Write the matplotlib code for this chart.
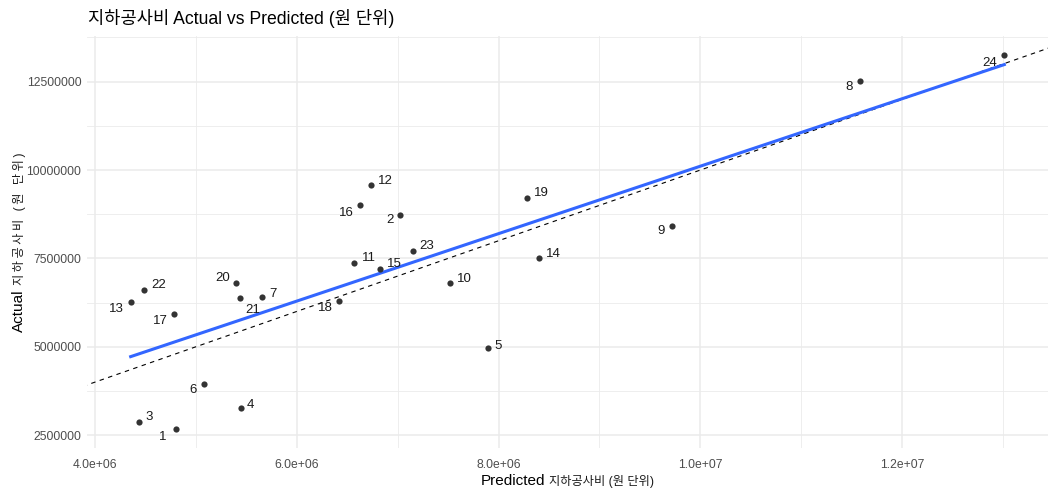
import matplotlib
matplotlib.use("Agg")
import matplotlib.pyplot as plt
import matplotlib.ticker as mticker
import numpy as np

plt.rcParams['font.family'] = ['Liberation Sans', 'Noto Sans CJK KR', 'DejaVu Sans']

# project id, model prediction and actual underground construction cost (KRW)
ids = list(range(1, 25))
predicted = [4.804e6, 7.021e6, 4.440e6, 5.449e6, 7.898e6, 5.082e6, 5.651e6, 11.583e6,
             9.720e6, 7.520e6, 6.565e6, 6.739e6, 4.354e6, 8.404e6, 6.826e6, 6.624e6,
             4.784e6, 6.422e6, 8.278e6, 5.400e6, 5.433e6, 4.489e6, 7.150e6, 13.012e6]
actual = [2.670e6, 8.730e6, 2.868e6, 3.272e6, 4.952e6, 3.934e6, 6.400e6, 12.511e6,
          8.410e6, 6.818e6, 7.373e6, 9.590e6, 6.280e6, 7.514e6, 7.195e6, 9.024e6,
          5.930e6, 6.309e6, 9.211e6, 6.800e6, 6.394e6, 6.609e6, 7.712e6, 13.255e6]

# label nudges in pixels (dx, dy) so numbers don't sit on the points
nudge = {1: (-13, -8), 2: (-10, -5), 3: (10, 5), 4: (9, 3), 5: (10, 2), 6: (-11, -6),
         7: (11, 3), 8: (-11, -6), 9: (-11, -5), 10: (14, 4), 11: (15, 5), 12: (14, 4),
         13: (-14, -7), 14: (14, 4), 15: (14, 5), 16: (-13, -8), 17: (-14, -7),
         18: (-14, -7), 19: (15, 5), 20: (-14, 5), 21: (13, -12), 22: (14, 5),
         23: (14, 5), 24: (-15, -8)}

x = np.array(predicted)
y = np.array(actual)

fig = plt.figure(figsize=(10.48, 4.9), dpi=100)
ax = fig.add_axes([0.083, 0.086, 0.917, 0.84])

# ggplot-style 5% expansion
xr = x.max() - x.min()
yr = y.max() - y.min()
ax.set_xlim(x.min() - 0.05 * xr, x.max() + 0.05 * xr)
ax.set_ylim(y.min() - 0.05 * yr, y.max() + 0.05 * yr)

ax.xaxis.set_major_locator(mticker.MultipleLocator(2e6))
ax.xaxis.set_minor_locator(mticker.MultipleLocator(1e6))
ax.yaxis.set_major_locator(mticker.MultipleLocator(2.5e6))
ax.yaxis.set_minor_locator(mticker.MultipleLocator(1.25e6))
ax.xaxis.set_major_formatter(mticker.FuncFormatter(lambda v, p: f"{v:.1e}"))
ax.yaxis.set_major_formatter(mticker.FuncFormatter(lambda v, p: f"{int(round(v))}"))

ax.grid(which='major', color='#ebebeb', lw=1.1)
ax.grid(which='minor', color='#ebebeb', lw=0.6)
ax.set_axisbelow(True)
for s in ax.spines.values():
    s.set_visible(False)
ax.tick_params(which='both', length=0)
ax.tick_params(axis='x', labelsize=8.7, labelcolor='#4d4d4d', pad=8)
ax.tick_params(axis='y', labelsize=8.7, labelcolor='#4d4d4d', pad=4)

# y = x reference
lo, hi = 0, 2e7
ax.plot([lo, hi], [lo, hi], ls=(0, (4, 4)), color='black', lw=0.8, zorder=2)

# linear fit over the data range
slope, icpt = np.polyfit(x, y, 1)
xs = np.array([x.min(), x.max()])
ax.plot(xs, slope * xs + icpt, color='#3366FF', lw=2.2, zorder=3)

ax.scatter(x, y, s=20, color='#333333', zorder=4, linewidths=0)
for i, px, py in zip(ids, predicted, actual):
    dx, dy = nudge[i]
    ax.annotate(str(i), (px, py), xytext=(dx, dy), textcoords='offset pixels',
                ha='center', va='center', fontsize=9.5, color='#1a1a1a', zorder=5)

fig.text(0.084, 0.963, "지하공사비 Actual vs Predicted (원 단위)", fontsize=12.7,
         ha='left', va='center', color='black')

# axis titles: Latin word larger, Korean part smaller
fig.canvas.draw()
r = fig.canvas.get_renderer()
bb = ax.get_window_extent()
cx = (bb.x0 + bb.x1) / 2
cy = (bb.y0 + bb.y1) / 2
gap = 4

t1 = fig.text(0, 0, "Predicted", fontsize=11, ha='left', va='baseline')
t2 = fig.text(0, 0, "지하공사비 (원 단위)", fontsize=8.8, ha='left', va='baseline',
              color='#1a1a1a')
w1 = t1.get_window_extent(r).width
w2 = t2.get_window_extent(r).width
left = cx - (w1 + gap + w2) / 2
base = 5
t1.set_position((left / fig.bbox.width, base / fig.bbox.height))
t2.set_position(((left + w1 + gap) / fig.bbox.width, base / fig.bbox.height))

ylab_ko = "\u2009".join("지하공사비 (원 단위)")
u1 = fig.text(0, 0, "Actual", fontsize=11, rotation=90, ha='left', va='bottom',
              rotation_mode='anchor')
u2 = fig.text(0, 0, ylab_ko, fontsize=8.8, rotation=90, ha='left',
              va='bottom', rotation_mode='anchor', color='#1a1a1a')
h1 = u1.get_window_extent(r).height
h2 = u2.get_window_extent(r).height
bottom = cy - (h1 + gap + h2) / 2
xb = 26
u1.set_position((xb / fig.bbox.width, bottom / fig.bbox.height))
u2.set_position((xb / fig.bbox.width, (bottom + h1 + gap) / fig.bbox.height))

fig.savefig("out.png", dpi=100)
